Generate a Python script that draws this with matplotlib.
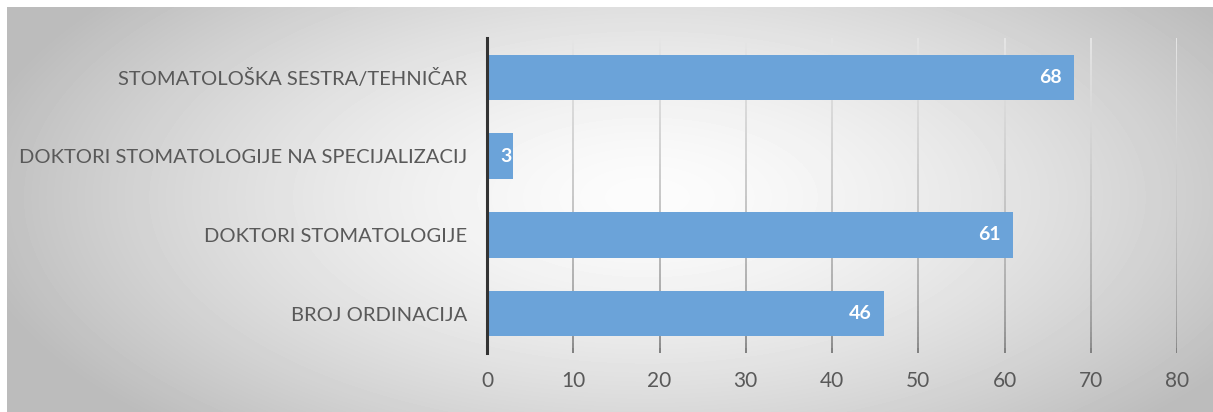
import matplotlib
matplotlib.use("Agg")
import matplotlib.pyplot as plt
from matplotlib.collections import LineCollection
import numpy as np

plt.rcParams['font.family'] = ['Lato', 'DejaVu Sans']

# podaci
kategorije = ["BROJ ORDINACIJA", "DOKTORI STOMATOLOGIJE",
              "DOKTORI STOMATOLOGIJE NA SPECIJALIZACIJ",
              "STOMATOLOŠKA SESTRA/TEHNIČAR"]
vrijednosti = [46, 61, 3, 68]
x_tickovi = [0, 10, 20, 30, 40, 50, 60, 70, 80]

W, H = 1213, 412
fig = plt.figure(figsize=(W / 100, H / 100), dpi=100)
fig.patch.set_facecolor('white')

# pozadina s radijalnim prijelazom
bg = fig.add_axes([7 / W, 0, 1 - 7 / W, 1 - 7 / H], zorder=0)
yy, xx = np.mgrid[0:405, 0:1206]
d = np.sqrt(((xx - 640) / 640.0) ** 2 + ((yy - 190) / 300.0) ** 2)
shade = np.clip(252 - 58 * d ** 1.5, 188, 252) / 255.0
bg.imshow(shade, cmap='gray', vmin=0, vmax=1, aspect='auto', interpolation='bilinear')
bg.axis('off')

ax = fig.add_axes([487 / W, 1 - 353 / H, (1177 - 487) / W, (353 - 38) / H], zorder=1)
ax.patch.set_alpha(0)

y = np.arange(len(kategorije))
bars = ax.barh(y, vrijednosti, height=0.58, color='#6ba3d9', zorder=3)

# rešetka: svjetlija gore, tamnija dolje
n = 60
ys = np.linspace(-0.5, 3.5, n + 1)
for t in x_tickovi[1:]:
    segs = [[(t, ys[i]), (t, ys[i + 1])] for i in range(n)]
    frac = (ys[:-1] + 0.5) / 4.0
    g = 0.50 + 0.40 * frac ** 0.5
    cols = [(v, v, v) for v in g]
    ax.add_collection(LineCollection(segs, colors=cols, linewidths=1.4, zorder=1))

for b, v in zip(bars, vrijednosti):
    off = -12 if v > 5 else -1
    ax.annotate(str(v), (v, b.get_y() + b.get_height() / 2), xytext=(off, 0),
                textcoords='offset pixels', ha='right', va='center',
                color='white', fontsize=14, fontweight='bold', zorder=4)

ax.set_xlim(0, 80)
ax.set_ylim(-0.5, 3.5)
ax.set_xticks(x_tickovi)
ax.set_yticks(y)
ax.set_yticklabels(kategorije, fontsize=14.5)
ax.tick_params(axis='both', length=0, colors='#595959')
ax.tick_params(axis='x', pad=13, labelsize=15)
ax.tick_params(axis='y', pad=14)
for s in ['top', 'right', 'bottom']:
    ax.spines[s].set_visible(False)
ax.spines['left'].set_color('#333333')
ax.spines['left'].set_linewidth(2.2)
ax.spines['left'].set_zorder(5)

fig.savefig('out.png', dpi=100)
